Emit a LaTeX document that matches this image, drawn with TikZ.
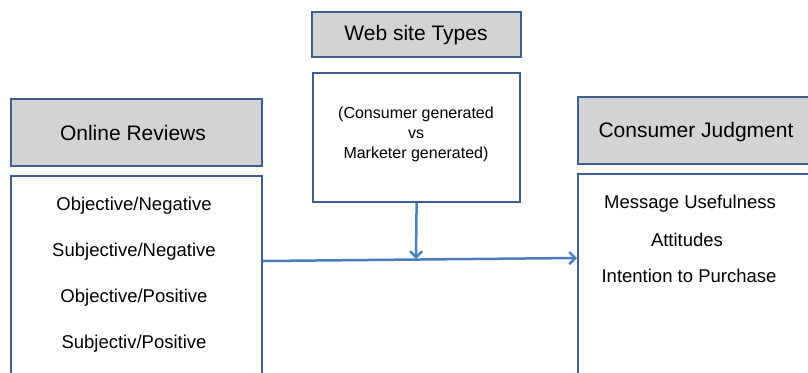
\documentclass[tikz,border=0pt]{standalone}
\usepackage{fontspec}
\setmainfont{Liberation Sans}
\usetikzlibrary{arrows.meta}
\definecolor{boxborder}{HTML}{3F5F8F}
\definecolor{headfill}{HTML}{D3D3D3}
\definecolor{arrowblue}{HTML}{4A7FC0}
\begin{document}
\begin{tikzpicture}[x=1pt,y=-1pt,
  headbox/.style={draw=boxborder,line width=2.2pt,fill=headfill,inner sep=0pt,anchor=north west},
  bodybox/.style={draw=boxborder,line width=2.2pt,fill=white,inner sep=0pt,anchor=north west},
  headtxt/.style={font=\fontsize{21}{25}\selectfont,inner sep=0pt},
  bodytxt/.style={font=\fontsize{18.5}{22}\selectfont,inner sep=0pt},
  flow/.style={draw=arrowblue,line width=2.5pt,-{Straight Barb[length=6pt,width=12pt,line width=2.5pt]}}]
\useasboundingbox (0,0) rectangle (808,372);
\clip (0,0) rectangle (808,372);
% boxes
\node[headbox,minimum width=209pt,minimum height=45pt] (webh) at (311,11) {};
\node[bodybox,minimum width=207pt,minimum height=129pt] (webb) at (312,72) {};
\node[headbox,minimum width=251pt,minimum height=67pt] (revh) at (10,98) {};
\node[bodybox,minimum width=251pt,minimum height=240pt] (revb) at (10,175) {};
\node[headbox,minimum width=260pt,minimum height=67pt] (judh) at (577,96) {};
\node[bodybox,minimum width=260pt,minimum height=240pt] (judb) at (577,173) {};
% texts
\node[headtxt] (webt) at (416,35) {Web site Types};
\node[font=\fontsize{16}{20}\selectfont,align=center,inner sep=0pt] (webc) at (416,134.5)
  {(Consumer generated\\vs\\Marketer generated)};
\node[headtxt] (revt) at (133,133) {Online Reviews};
\node[bodytxt] (r1) at (134,205.5) {Objective/Negative};
\node[bodytxt] (r2) at (134,251.5) {Subjective/Negative};
\node[bodytxt] (r3) at (134,297.5) {Objective/Positive};
\node[bodytxt] (r4) at (134,343.5) {Subjectiv/Positive};
\node[headtxt] (judt) at (696,132) {Consumer Judgment};
\node[bodytxt] (j1) at (690,203.5) {Message Usefulness};
\node[bodytxt] (j2) at (687,240) {Attitudes};
\node[bodytxt] (j3) at (689,275.5) {Intention to Purchase};
% connectors
\coordinate (join) at (416,259);
\draw[flow] (revb.east |- 0,261) -- (judb.west |- 0,258);
\draw[flow] (webb.south) -- (join);
\end{tikzpicture}
\end{document}
